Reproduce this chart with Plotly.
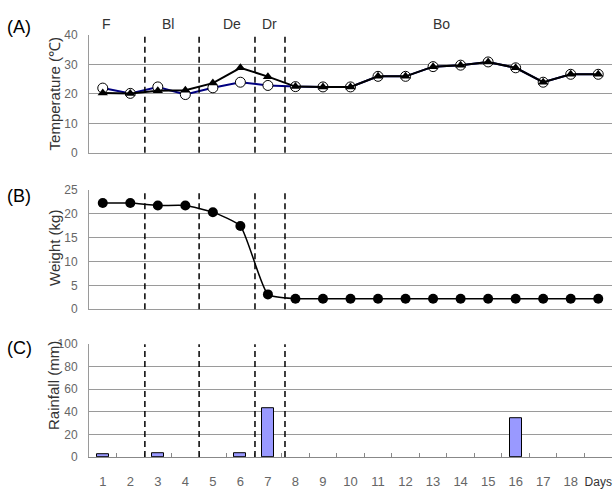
import plotly.graph_objects as go

# ---------------- data ----------------
day_labels = ["1", "2", "3", "4", "5", "6", "7", "8", "9", "10", "11", "12",
              "13", "14", "15", "16", "17", "18", "Days"]

temp_open = [22.0, 20.2, 22.4, 19.8, 22.1, 24.0, 22.9, 22.5, 22.4, 22.4,
             26.0, 26.0, 29.3, 29.8, 30.9, 28.9, 24.0, 26.7, 26.7]
temp_tri = [20.3, 20.2, 21.1, 21.3, 23.7, 28.9, 25.9, 22.5, 22.4, 22.4,
            26.0, 26.0, 29.3, 29.8, 30.9, 28.9, 24.0, 26.7, 26.7]

weight = [22.2, 22.2, 21.7, 21.7, 20.3, 17.4, 3.1, 2.2, 2.2, 2.2,
          2.2, 2.2, 2.2, 2.2, 2.2, 2.2, 2.2, 2.2, 2.2]

rain_days = ["1", "3", "6", "7", "16"]
rain = [2.0, 3.5, 3.5, 43.0, 34.0]

phase_names = ["F", "Bl", "De", "Dr", "Bo"]
phase_label_pos = [1.15, 3.36, 5.7, 7.07, 13.3]   # in day units
phase_bounds = [2.53, 4.5, 6.53, 7.62]           # in day units

temp_ticks = [0, 10, 20, 30, 40]
weight_ticks = [0, 5, 10, 15, 20, 25]
rain_ticks = [0, 20, 40, 60, 80, 100]

# ---------------- styling ----------------
W, H = 614, 496
X0, X1 = 89 / W, 612 / W
dom_A = [1 - 150 / H, 1 - 29 / H]
dom_B = [1 - 311 / H, 1 - 188 / H]
dom_C = [1 - 463 / H, 1 - 347 / H]

grid = "#9a9a9a"
tickfont = dict(family="Liberation Sans, Arial", size=12, color="#666666")
titlefont = dict(family="Liberation Sans, Arial", size=15, color="#333333")

fig = go.Figure()

fig.add_trace(go.Scatter(
    x=day_labels, y=temp_open, xaxis="x", yaxis="y", mode="lines+markers",
    line=dict(color="#000080", width=2),
    marker=dict(symbol="circle", size=10, color="white",
                line=dict(color="black", width=1)),
    hoverinfo="skip"))
fig.add_trace(go.Scatter(
    x=day_labels, y=temp_tri, xaxis="x", yaxis="y", mode="lines+markers",
    line=dict(color="black", width=2),
    marker=dict(symbol="triangle-up", size=9, color="black"),
    hoverinfo="skip"))
fig.add_trace(go.Scatter(
    x=day_labels, y=weight, xaxis="x2", yaxis="y2", mode="lines+markers",
    line=dict(color="black", width=1.5, shape="spline", smoothing=0.5),
    marker=dict(symbol="circle", size=10, color="black"),
    hoverinfo="skip"))
fig.add_trace(go.Bar(
    x=rain_days, y=rain, xaxis="x3", yaxis="y3", width=0.44,
    marker=dict(color="#9999ff", line=dict(color="black", width=1)),
    hoverinfo="skip"))

def xax(anchor, labels):
    d = dict(domain=[X0, X1], anchor=anchor, type="category",
             categoryorder="array", categoryarray=day_labels,
             range=[-0.5, len(day_labels) - 0.5], showgrid=False,
             zeroline=False, fixedrange=True, tickangle=0)
    if labels:
        ticktext = day_labels[:-1] + ['<span style="color:#333333;font-size:12px">Days</span>']
        d.update(showticklabels=True, tickmode="array", tickvals=day_labels,
                 ticktext=ticktext, ticks="inside", tickson="boundaries",
                 ticklen=4, tickcolor="#888888", showline=True,
                 linecolor="#888888", linewidth=1,
                 tickfont=dict(tickfont, size=13), ticklabelstandoff=12)
    else:
        d.update(showticklabels=False, ticks="", showline=True,
                 linecolor=grid, linewidth=1)
    return d

def yax(anchor, dom, rng, ticks):
    return dict(domain=dom, anchor=anchor, range=rng, tickmode="array",
                tickvals=ticks, showgrid=True, gridcolor=grid, gridwidth=1,
                zeroline=False, showline=True, linecolor=grid, linewidth=1,
                ticks="", tickfont=tickfont, ticklabelstandoff=8,
                fixedrange=True)

shapes = []
for xr, yr in (("x", "y"), ("x2", "y2"), ("x3", "y3")):
    for b in phase_bounds:
        shapes.append(dict(type="line", xref=xr, yref=yr + " domain",
                           x0=b - 1, x1=b - 1, y0=0, y1=1, layer="above",
                           line=dict(color="black", width=1.5, dash="6px,4px")))

annotations = []
for name, pos in zip(phase_names, phase_label_pos):
    annotations.append(dict(text=name, x=pos - 1, xref="x", xanchor="center",
                            y=1 - 17 / H, yref="paper", yanchor="middle",
                            showarrow=False,
                            font=dict(family="Liberation Sans, Arial", size=14,
                                      color="#333333")))
for lab, yc in (("(A)", 21), ("(B)", 195), ("(C)", 351)):
    annotations.append(dict(text=lab, x=5 / W, xref="paper", xanchor="left",
                            y=1 - yc / H, yref="paper", yanchor="middle",
                            showarrow=False,
                            font=dict(family="Liberation Sans, Arial", size=18,
                                      color="black")))
for lab, yc in (("Temperature (\u2103)", 90), ("Weight (kg)", 248),
                ("Rainfall (mm)", 390)):
    annotations.append(dict(text=lab, x=54 / W, xref="paper", xanchor="center",
                            y=1 - yc / H, yref="paper", yanchor="middle",
                            showarrow=False, textangle=-90, font=titlefont))

fig.update_layout(
    width=W, height=H, margin=dict(l=0, r=0, t=0, b=0),
    paper_bgcolor="white", plot_bgcolor="white", showlegend=False,
    xaxis=xax("y", False), xaxis2=xax("y2", False), xaxis3=xax("y3", True),
    yaxis=yax("x", dom_A, [0, 40], temp_ticks),
    yaxis2=yax("x2", dom_B, [0, 25], weight_ticks),
    yaxis3=yax("x3", dom_C, [0, 100], rain_ticks),
    shapes=shapes, annotations=annotations, bargap=0,
)

fig.write_html("out.html", config={"displayModeBar": False})
